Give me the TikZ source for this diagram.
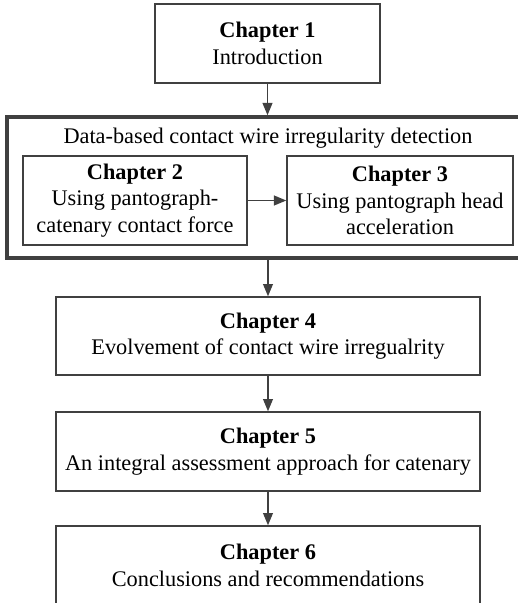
\documentclass[tikz,border=0pt]{standalone}
\usepackage{fontspec}
\setmainfont{Liberation Serif}
\usetikzlibrary{arrows.meta}
\definecolor{linegray}{RGB}{64,64,64}

\begin{document}
\begin{tikzpicture}[chap/.style={draw=linegray,line width=0.8pt,align=center,inner sep=0pt,font=\fontsize{12.7}{15}\selectfont},
  frame/.style={draw=linegray,line width=2pt,inner sep=0pt},
  link/.style={->,draw=linegray,line width=0.8pt},
  >={Triangle[length=7pt,width=5.6pt]}]
\useasboundingbox (0,0) rectangle (10.36,-12.06);

\node[chap,minimum width=4.5cm,minimum height=1.58cm] (C1) at (5.35,-0.87) {\textbf{Chapter 1}\\Introduction};

\node[frame,minimum width=10.44cm,minimum height=2.82cm] (D) at (5.36,-3.75) {};
\node[font=\fontsize{12.7}{15}\selectfont,inner sep=0pt] (T) at (5.36,-2.76) {Data-based contact wire irregularity detection};

\node[chap,minimum width=4.48cm,minimum height=1.78cm] (C2) at (2.70,-4.01) {\textbf{Chapter 2}\\Using pantograph-\\catenary contact force};
\node[chap,minimum width=4.52cm,minimum height=1.78cm] (C3) at (8.00,-4.01) {\textbf{Chapter 3}\\Using pantograph head\\acceleration};

\node[chap,minimum width=8.48cm,minimum height=1.56cm] (C4) at (5.36,-6.72) {\textbf{Chapter 4}\\Evolvement of contact wire irregualrity};
\node[chap,minimum width=8.48cm,minimum height=1.58cm] (C5) at (5.36,-9.03) {\textbf{Chapter 5}\\An integral assessment approach for catenary};
\node[chap,minimum width=8.48cm,minimum height=1.58cm] (C6) at (5.36,-11.31) {\textbf{Chapter 6}\\Conclusions and recommendations};

\draw[link] (C1.south) -- (C1.south |- D.north);
\draw[link] (C2.east) -- (C3.west);
\draw[link] (D.south) -- (C4.north);
\draw[link] (C4.south) -- (C5.north);
\draw[link] (C5.south) -- (C6.north);
\end{tikzpicture}
\end{document}
